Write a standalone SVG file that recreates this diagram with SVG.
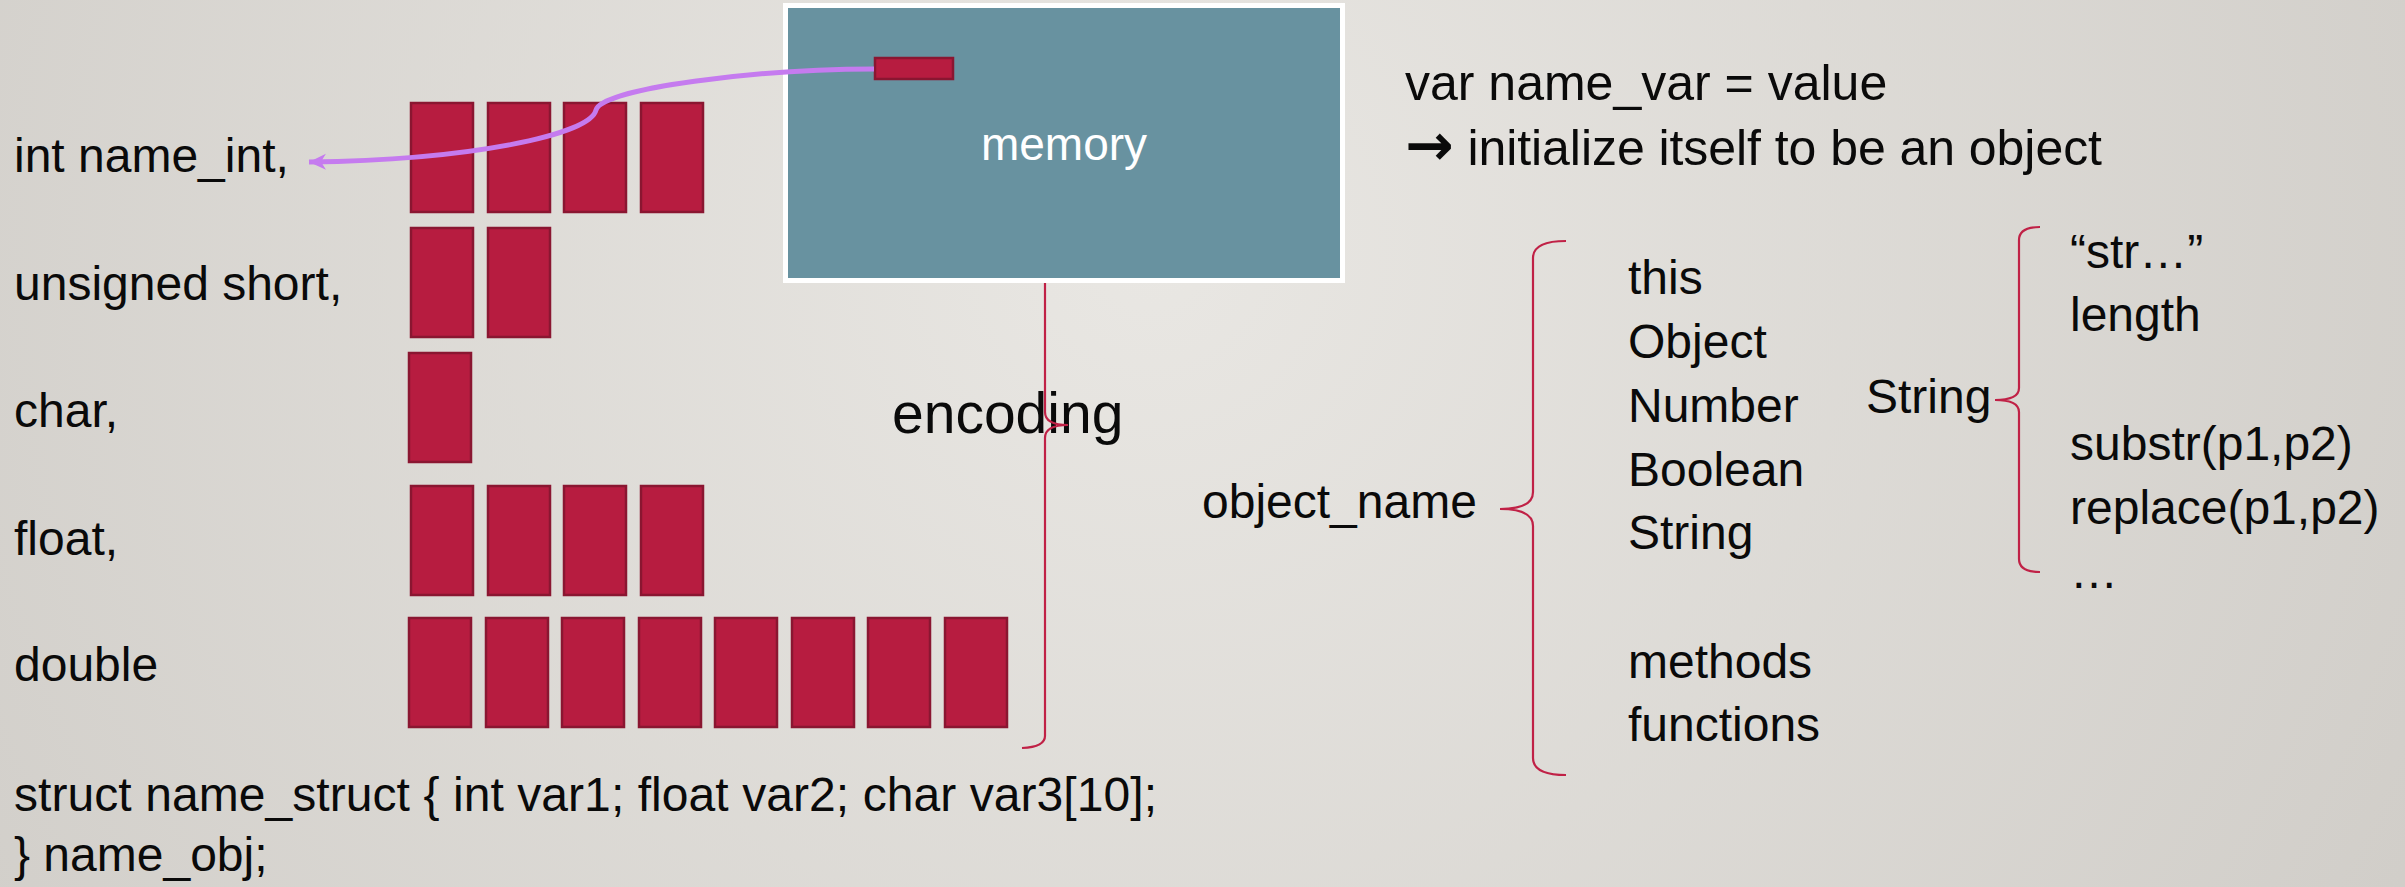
<svg xmlns="http://www.w3.org/2000/svg" width="2405" height="887" viewBox="0 0 2405 887">
<defs>
  <radialGradient id="bg" cx="1150" cy="250" r="1400" gradientUnits="userSpaceOnUse">
    <stop offset="0" stop-color="#E9E7E3"/>
    <stop offset="1" stop-color="#D1CEC9"/>
  </radialGradient>
  <marker id="ah" markerUnits="userSpaceOnUse" markerWidth="18" markerHeight="18" viewBox="0 0 18 18" refX="17" refY="9" orient="auto">
    <path d="M17,9 L0,1 L5,9 L0,17 z" fill="#C57BEF"/>
  </marker>
  <style>
    .t{font-family:"Liberation Sans","DejaVu Sans",sans-serif;font-size:48px;fill:#0a0a0a}
    .blk{fill:#B71C40;stroke:#8A1631;stroke-width:2.5}
    .br{fill:none;stroke:#C02146;stroke-width:2.2}
  </style>
</defs>
<rect width="2405" height="887" fill="url(#bg)"/>

<g id="labels-types">
  <text class="t" x="14" y="172">int name_int,</text>
  <text class="t" x="14" y="300">unsigned short,</text>
  <text class="t" x="14" y="427">char,</text>
  <text class="t" x="14" y="555">float,</text>
  <text class="t" x="14" y="681">double</text>
  <text class="t" x="14" y="811" textLength="1143">struct name_struct { int var1; float var2; char var3[10];</text>
  <text class="t" x="14" y="871">} name_obj;</text>
</g>

<g id="blocks-int">
  <rect class="blk" x="411" y="103" width="62" height="109"/>
  <rect class="blk" x="488" y="103" width="62" height="109"/>
  <rect class="blk" x="564" y="103" width="62" height="109"/>
  <rect class="blk" x="641" y="103" width="62" height="109"/>
</g>
<g id="blocks-short">
  <rect class="blk" x="411" y="228" width="62" height="109"/>
  <rect class="blk" x="488" y="228" width="62" height="109"/>
</g>
<g id="blocks-char">
  <rect class="blk" x="409" y="353" width="62" height="109"/>
</g>
<g id="blocks-float">
  <rect class="blk" x="411" y="486" width="62" height="109"/>
  <rect class="blk" x="488" y="486" width="62" height="109"/>
  <rect class="blk" x="564" y="486" width="62" height="109"/>
  <rect class="blk" x="641" y="486" width="62" height="109"/>
</g>
<g id="blocks-double">
  <rect class="blk" x="409" y="618" width="62" height="109"/>
  <rect class="blk" x="486" y="618" width="62" height="109"/>
  <rect class="blk" x="562" y="618" width="62" height="109"/>
  <rect class="blk" x="639" y="618" width="62" height="109"/>
  <rect class="blk" x="715" y="618" width="62" height="109"/>
  <rect class="blk" x="792" y="618" width="62" height="109"/>
  <rect class="blk" x="868" y="618" width="62" height="109"/>
  <rect class="blk" x="945" y="618" width="62" height="109"/>
</g>

<g id="encoding">
  <text class="t" x="892" y="433" style="font-size:57px">encoding</text>
</g>

<g id="memory">
  <rect x="785.5" y="5.5" width="557" height="275" fill="#6892A0" stroke="#FFFFFF" stroke-width="5"/>
  <text class="t" x="1064" y="160" text-anchor="middle" style="font-size:46px;fill:#FFFFFF">memory</text>
  <rect class="blk" x="875" y="58" width="78" height="21"/>
</g>

<g id="var-decl">
  <text class="t" x="1405" y="100" style="font-size:50px">var name_var = value</text>
  <text class="t" x="1405" y="165" style="font-size:50px" textLength="697"><tspan style="font-family:'DejaVu Sans',sans-serif;font-weight:bold;font-size:58px">→</tspan> initialize itself to be an object</text>
</g>

<g id="object-name">
  <text class="t" x="1202" y="518">object_name</text>
</g>

<g id="object-members">
  <text class="t" x="1628" y="294">this</text>
  <text class="t" x="1628" y="358">Object</text>
  <text class="t" x="1628" y="422">Number</text>
  <text class="t" x="1628" y="486">Boolean</text>
  <text class="t" x="1628" y="549">String</text>
  <text class="t" x="1628" y="678">methods</text>
  <text class="t" x="1628" y="741">functions</text>
</g>

<g id="string-node">
  <text class="t" x="1866" y="413">String</text>
</g>

<g id="string-members">
  <text class="t" x="2070" y="268">“str…”</text>
  <text class="t" x="2070" y="331">length</text>
  <text class="t" x="2070" y="460">substr(p1,p2)</text>
  <text class="t" x="2070" y="524">replace(p1,p2)</text>
  <text class="t" x="2070" y="588">…</text>
</g>

<g id="connectors">
  <path class="br" d="M1045,283 L1045,412 Q1045,425 1068,425 Q1045,425 1045,438 L1045,736 Q1045,747 1022,748"/>
  <path class="br" d="M1566,241 Q1533,241 1533,258 L1533,492 Q1533,509 1500,509 Q1533,509 1533,526 L1533,758 Q1533,775 1566,775"/>
  <path class="br" d="M2040,227 Q2019,227 2019,240 L2019,388 Q2019,400 1995,400 Q2019,400 2019,412 L2019,559 Q2019,572 2040,572"/>
  <path d="M874,69 C760,69 602,88 596,110 C590,135 470,160 309,162" fill="none" stroke="#C57BEF" stroke-width="5" marker-end="url(#ah)"/>
</g>
</svg>
